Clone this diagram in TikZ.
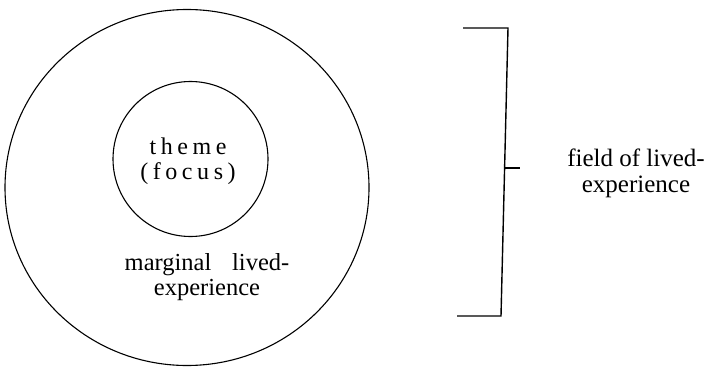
\documentclass[tikz,border=0pt]{standalone}
\usepackage{fontspec}
\setmainfont{Liberation Serif}
\usetikzlibrary{positioning,shapes.geometric}

\begin{document}
\begin{tikzpicture}[x=1pt,y=-1pt,line width=1.1pt]
\useasboundingbox (0,0) rectangle (717,369);
\node[draw,ellipse,inner sep=0pt,minimum width=364pt,minimum height=356pt] (field) at (187,187.5) {};
\node[draw,circle,inner sep=0pt,minimum size=155pt] (focus) at (190.5,159) {};
\node[align=center,font=\fontsize{24}{25}\selectfont\addfontfeature{LetterSpace=19}] (theme) at (188,161.5) {theme\\(focus)};
\node[align=center,font=\fontsize{24.5}{25}\selectfont] (marginal) at (207,277) {marginal\hspace{0.6em} lived-\\experience};
\coordinate (bt) at (508,28);
\coordinate (bb) at (501,316);
\coordinate (btl) at (463,28);
\coordinate (bbl) at (457,316);
\coordinate (bm) at (504.5,168);
\coordinate (tick) at (520,168);
\draw[line width=1.4pt] (btl) -- (bt) -- (bb) -- (bbl);
\draw[line width=1.3pt] (bm) -- (tick);
\node[align=center,font=\fontsize{25}{26}\selectfont] (fieldtxt) at (636,173) {field of lived-\\experience};
\end{tikzpicture}
\end{document}
